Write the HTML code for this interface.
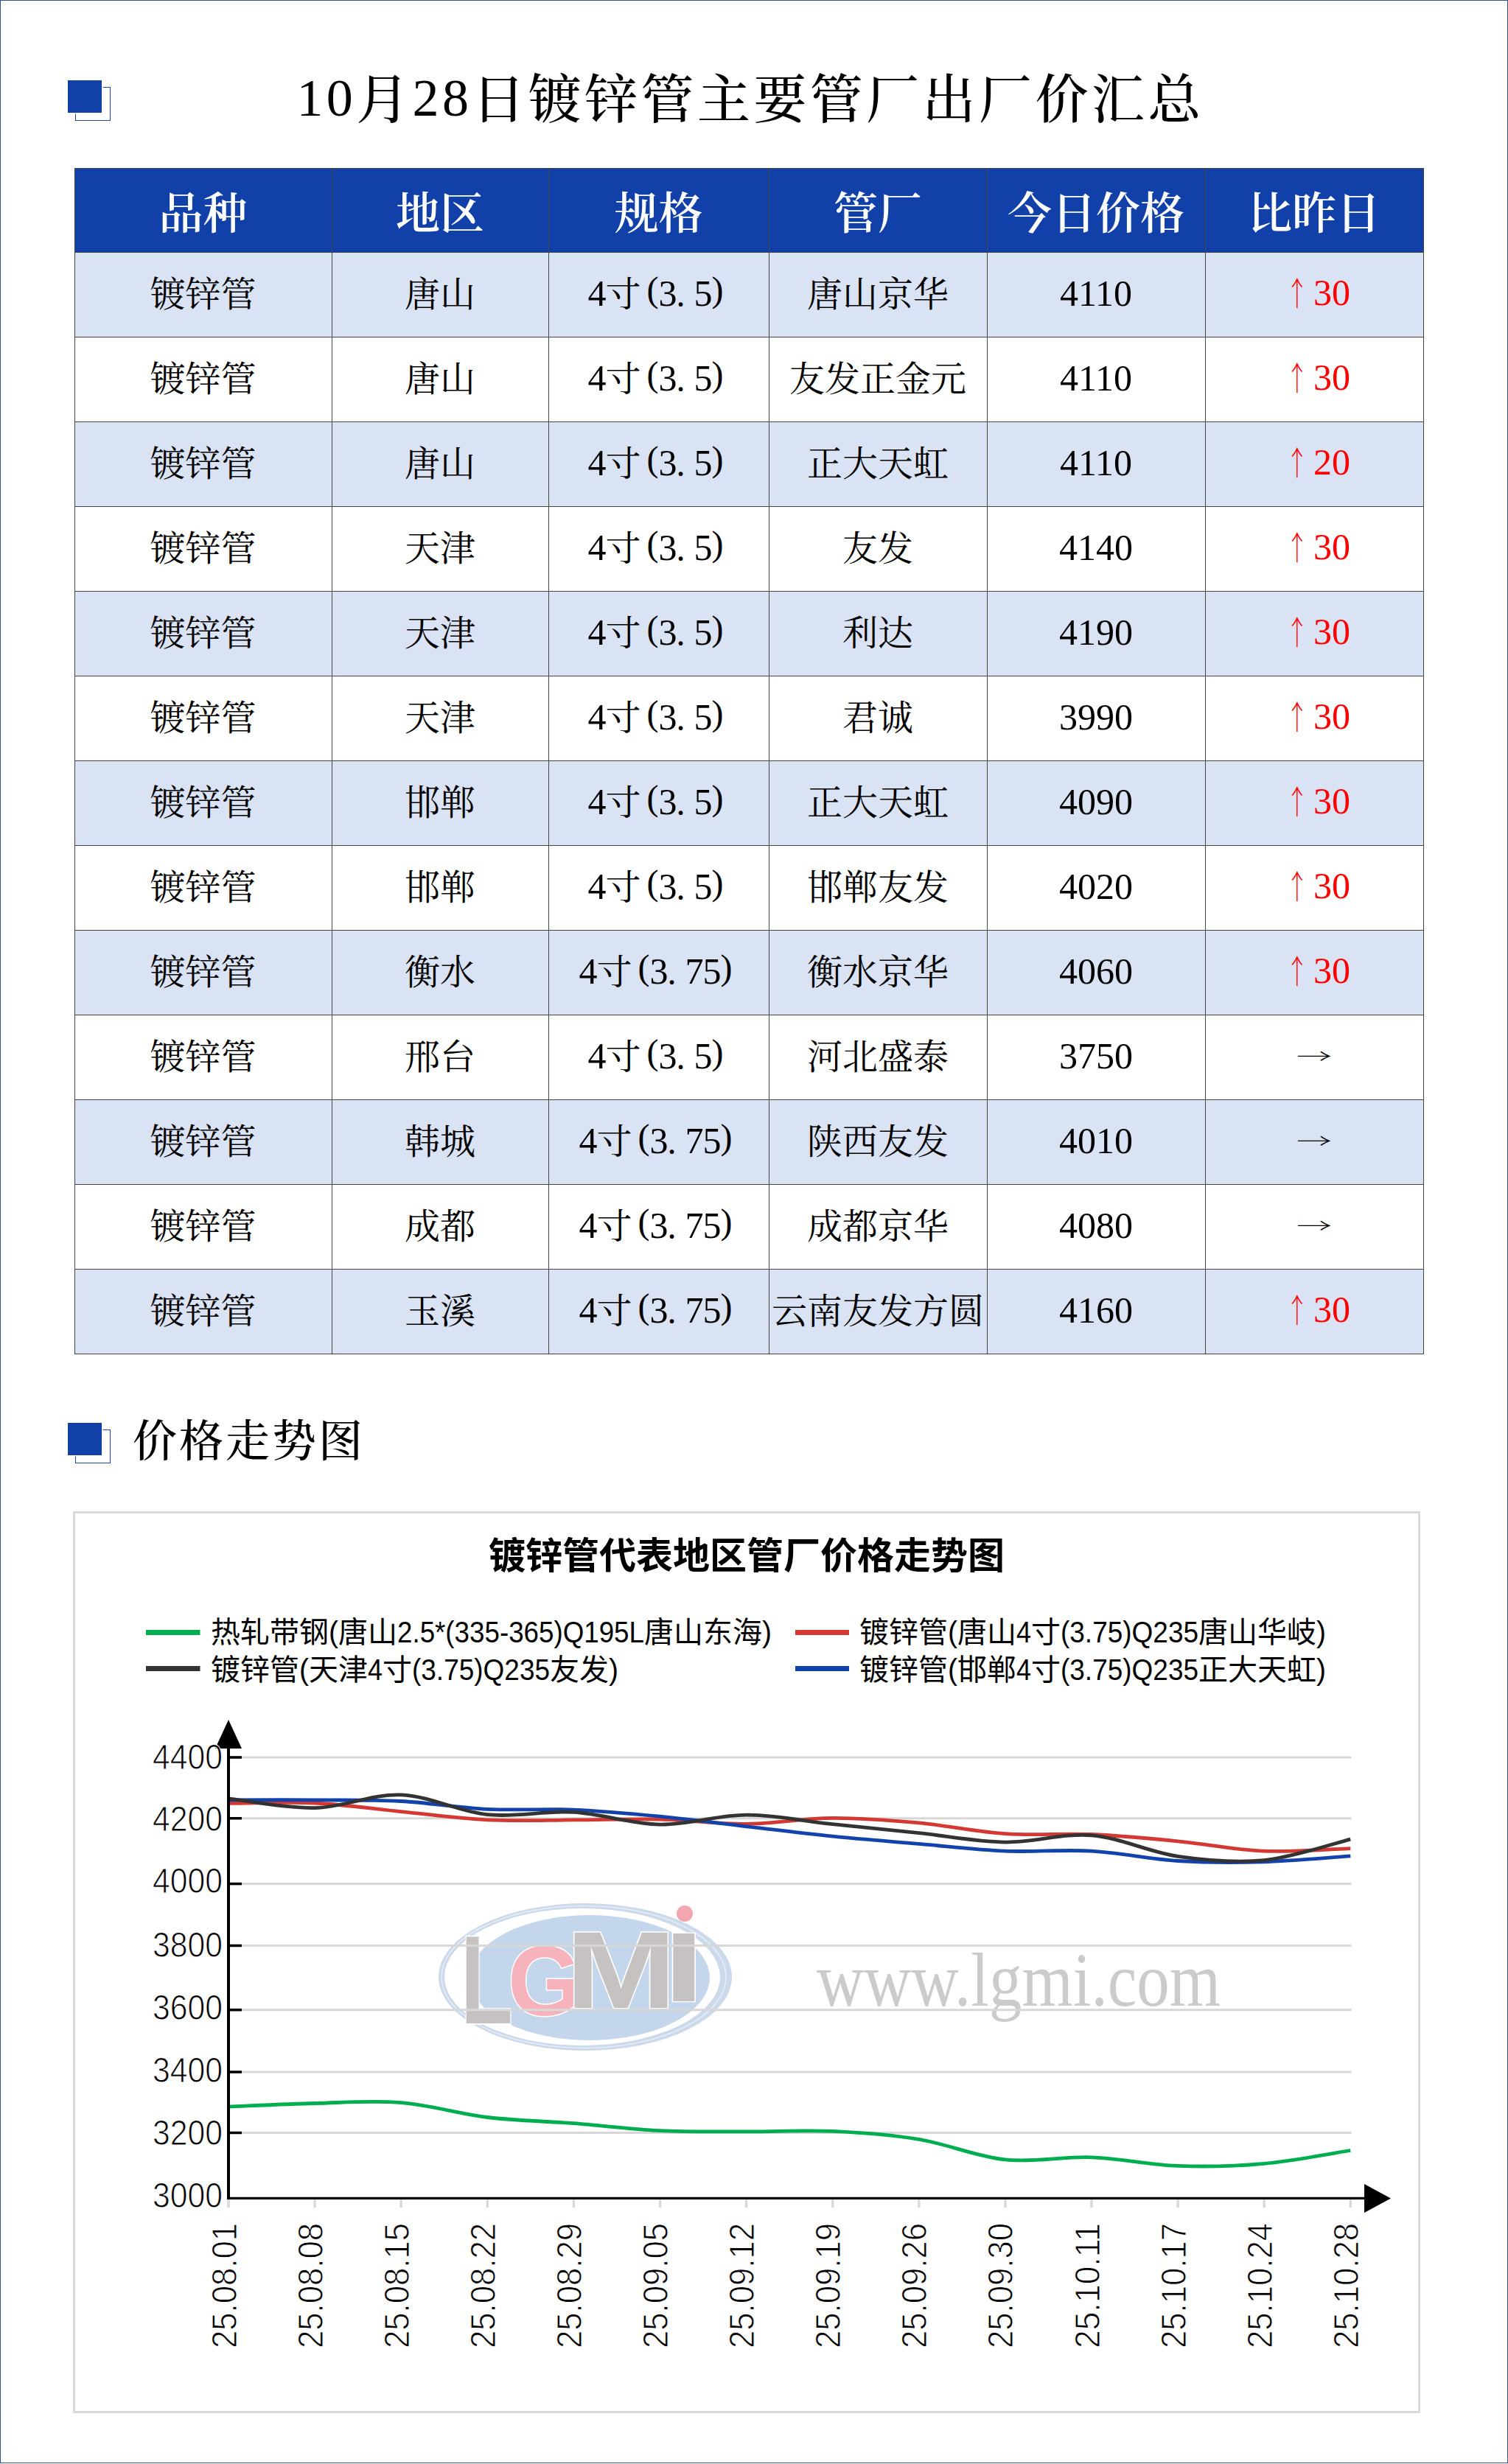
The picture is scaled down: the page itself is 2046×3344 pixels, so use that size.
<!DOCTYPE html><html><head><meta charset="utf-8"><title>镀锌管主要管厂出厂价汇总</title><style>
*{margin:0;padding:0;box-sizing:border-box}
html,body{width:2046px;height:3344px;background:#fff;overflow:hidden}
body{position:relative;font-family:"Liberation Serif","Noto Serif CJK SC",serif;color:#000}
.frame{position:absolute;left:0;top:0;width:2046px;height:3343px;border:1px solid #32528f}
.ico{position:absolute;width:58px;height:55px}
.ico .o{position:absolute;left:10px;top:9px;width:48px;height:46px;border:1.5px solid #1a46b0}
.ico .f{position:absolute;left:0;top:0;width:46px;height:44px;background:#1240a9;box-shadow:0 0 0 1.5px #fff}
.title{position:absolute;left:0;width:2046px;text-align:center;font-size:72px;font-weight:500;letter-spacing:4.4px;white-space:nowrap;line-height:1}
.tn{position:relative;top:-3px}
.sec{position:absolute;font-size:60px;font-weight:500;letter-spacing:3px;white-space:nowrap;line-height:1}
.row{position:absolute;left:101px;width:1831px}
.hl{position:absolute;left:101px;width:1831px;height:1px;background:#454545}
.vl{position:absolute;width:1px;background:#454545}
.c{position:absolute;display:flex;align-items:center;justify-content:center;white-space:nowrap;line-height:1}
.h{color:#fff;font-size:60px;font-weight:600;padding-top:12px}
.d{font-size:48px}
.hw{display:inline-block;width:24px;text-align:center}
.pl{text-align:right;position:relative;top:-7px}
.pr{text-align:left;position:relative;top:-7px}
.dt{text-align:left}
.n{font-size:50px;position:relative;top:-2px}
.nu{top:-3.5px}
.ra{transform:translateY(-3.5px) scaleY(0.55)}
.ua{transform:translate(2px,-2px) scale(0.62,0.93)}
.up{color:#f00}
.ar{display:inline-block;width:48px;text-align:center;font-family:"Noto Serif CJK SC",serif}
.cs{position:absolute;left:99px;top:2051px}
.ct{font-family:"Liberation Sans","Noto Sans CJK SC",sans-serif;font-size:50px;font-weight:700}
.lg{font-family:"Liberation Sans","Noto Sans CJK SC",sans-serif;font-size:40px}
.ax{font-family:"Liberation Sans",sans-serif;font-size:48px;stroke:#fff;stroke-width:1px}
.wl{font-family:"Liberation Sans",sans-serif;font-weight:700;font-size:100px}
.ww{font-family:"Liberation Serif",serif;font-size:104px;fill:#cbcbcb}
.chart{position:absolute;left:99px;top:2051px;width:1828px;height:1224px;border:3px solid #d9d9d9;background:#fff}
</style></head><body>
<div class="frame"></div>
<div class="ico" style="left:92px;top:109px"><div class="o"></div><div class="f"></div></div>
<div class="title" style="top:99.5px;left:-5px"><span class="tn">10</span>月<span class="tn">28</span>日镀锌管主要管厂出厂价汇总</div>
<div class="row" style="top:228px;height:114px;background:#1240a9"></div>
<div class="row" style="top:342px;height:115px;background:#dae3f3"></div>
<div class="row" style="top:457px;height:115px;background:#ffffff"></div>
<div class="row" style="top:572px;height:115px;background:#dae3f3"></div>
<div class="row" style="top:687px;height:115px;background:#ffffff"></div>
<div class="row" style="top:802px;height:115px;background:#dae3f3"></div>
<div class="row" style="top:917px;height:115px;background:#ffffff"></div>
<div class="row" style="top:1032px;height:115px;background:#dae3f3"></div>
<div class="row" style="top:1147px;height:115px;background:#ffffff"></div>
<div class="row" style="top:1262px;height:115px;background:#dae3f3"></div>
<div class="row" style="top:1377px;height:115px;background:#ffffff"></div>
<div class="row" style="top:1492px;height:115px;background:#dae3f3"></div>
<div class="row" style="top:1607px;height:115px;background:#ffffff"></div>
<div class="row" style="top:1722px;height:115px;background:#dae3f3"></div>
<div class="c h" style="left:101px;top:228px;width:349px;height:114px">品种</div>
<div class="c h" style="left:450px;top:228px;width:294px;height:114px">地区</div>
<div class="c h" style="left:744px;top:228px;width:299px;height:114px">规格</div>
<div class="c h" style="left:1043px;top:228px;width:296px;height:114px">管厂</div>
<div class="c h" style="left:1339px;top:228px;width:296px;height:114px">今日价格</div>
<div class="c h" style="left:1635px;top:228px;width:296px;height:114px">比昨日</div>
<div class="c d" style="left:101px;top:342px;width:349px;height:115px">镀锌管</div>
<div class="c d" style="left:450px;top:342px;width:294px;height:115px">唐山</div>
<div class="c d" style="left:744px;top:342px;width:299px;height:115px"><span class="hw n">4</span>寸<span class="hw pl">(</span><span class="hw n">3</span><span class="hw dt">.</span><span class="hw n">5</span><span class="hw pr">)</span></div>
<div class="c d" style="left:1043px;top:342px;width:296px;height:115px">唐山京华</div>
<div class="c d" style="left:1339px;top:342px;width:296px;height:115px"><span class="n">4110</span></div>
<div class="c d" style="left:1635px;top:342px;width:296px;height:115px"><span class="up"><span class="ar ua">↑</span><span class="n nu">30</span></span></div>
<div class="c d" style="left:101px;top:457px;width:349px;height:115px">镀锌管</div>
<div class="c d" style="left:450px;top:457px;width:294px;height:115px">唐山</div>
<div class="c d" style="left:744px;top:457px;width:299px;height:115px"><span class="hw n">4</span>寸<span class="hw pl">(</span><span class="hw n">3</span><span class="hw dt">.</span><span class="hw n">5</span><span class="hw pr">)</span></div>
<div class="c d" style="left:1043px;top:457px;width:296px;height:115px">友发正金元</div>
<div class="c d" style="left:1339px;top:457px;width:296px;height:115px"><span class="n">4110</span></div>
<div class="c d" style="left:1635px;top:457px;width:296px;height:115px"><span class="up"><span class="ar ua">↑</span><span class="n nu">30</span></span></div>
<div class="c d" style="left:101px;top:572px;width:349px;height:115px">镀锌管</div>
<div class="c d" style="left:450px;top:572px;width:294px;height:115px">唐山</div>
<div class="c d" style="left:744px;top:572px;width:299px;height:115px"><span class="hw n">4</span>寸<span class="hw pl">(</span><span class="hw n">3</span><span class="hw dt">.</span><span class="hw n">5</span><span class="hw pr">)</span></div>
<div class="c d" style="left:1043px;top:572px;width:296px;height:115px">正大天虹</div>
<div class="c d" style="left:1339px;top:572px;width:296px;height:115px"><span class="n">4110</span></div>
<div class="c d" style="left:1635px;top:572px;width:296px;height:115px"><span class="up"><span class="ar ua">↑</span><span class="n nu">20</span></span></div>
<div class="c d" style="left:101px;top:687px;width:349px;height:115px">镀锌管</div>
<div class="c d" style="left:450px;top:687px;width:294px;height:115px">天津</div>
<div class="c d" style="left:744px;top:687px;width:299px;height:115px"><span class="hw n">4</span>寸<span class="hw pl">(</span><span class="hw n">3</span><span class="hw dt">.</span><span class="hw n">5</span><span class="hw pr">)</span></div>
<div class="c d" style="left:1043px;top:687px;width:296px;height:115px">友发</div>
<div class="c d" style="left:1339px;top:687px;width:296px;height:115px"><span class="n">4140</span></div>
<div class="c d" style="left:1635px;top:687px;width:296px;height:115px"><span class="up"><span class="ar ua">↑</span><span class="n nu">30</span></span></div>
<div class="c d" style="left:101px;top:802px;width:349px;height:115px">镀锌管</div>
<div class="c d" style="left:450px;top:802px;width:294px;height:115px">天津</div>
<div class="c d" style="left:744px;top:802px;width:299px;height:115px"><span class="hw n">4</span>寸<span class="hw pl">(</span><span class="hw n">3</span><span class="hw dt">.</span><span class="hw n">5</span><span class="hw pr">)</span></div>
<div class="c d" style="left:1043px;top:802px;width:296px;height:115px">利达</div>
<div class="c d" style="left:1339px;top:802px;width:296px;height:115px"><span class="n">4190</span></div>
<div class="c d" style="left:1635px;top:802px;width:296px;height:115px"><span class="up"><span class="ar ua">↑</span><span class="n nu">30</span></span></div>
<div class="c d" style="left:101px;top:917px;width:349px;height:115px">镀锌管</div>
<div class="c d" style="left:450px;top:917px;width:294px;height:115px">天津</div>
<div class="c d" style="left:744px;top:917px;width:299px;height:115px"><span class="hw n">4</span>寸<span class="hw pl">(</span><span class="hw n">3</span><span class="hw dt">.</span><span class="hw n">5</span><span class="hw pr">)</span></div>
<div class="c d" style="left:1043px;top:917px;width:296px;height:115px">君诚</div>
<div class="c d" style="left:1339px;top:917px;width:296px;height:115px"><span class="n">3990</span></div>
<div class="c d" style="left:1635px;top:917px;width:296px;height:115px"><span class="up"><span class="ar ua">↑</span><span class="n nu">30</span></span></div>
<div class="c d" style="left:101px;top:1032px;width:349px;height:115px">镀锌管</div>
<div class="c d" style="left:450px;top:1032px;width:294px;height:115px">邯郸</div>
<div class="c d" style="left:744px;top:1032px;width:299px;height:115px"><span class="hw n">4</span>寸<span class="hw pl">(</span><span class="hw n">3</span><span class="hw dt">.</span><span class="hw n">5</span><span class="hw pr">)</span></div>
<div class="c d" style="left:1043px;top:1032px;width:296px;height:115px">正大天虹</div>
<div class="c d" style="left:1339px;top:1032px;width:296px;height:115px"><span class="n">4090</span></div>
<div class="c d" style="left:1635px;top:1032px;width:296px;height:115px"><span class="up"><span class="ar ua">↑</span><span class="n nu">30</span></span></div>
<div class="c d" style="left:101px;top:1147px;width:349px;height:115px">镀锌管</div>
<div class="c d" style="left:450px;top:1147px;width:294px;height:115px">邯郸</div>
<div class="c d" style="left:744px;top:1147px;width:299px;height:115px"><span class="hw n">4</span>寸<span class="hw pl">(</span><span class="hw n">3</span><span class="hw dt">.</span><span class="hw n">5</span><span class="hw pr">)</span></div>
<div class="c d" style="left:1043px;top:1147px;width:296px;height:115px">邯郸友发</div>
<div class="c d" style="left:1339px;top:1147px;width:296px;height:115px"><span class="n">4020</span></div>
<div class="c d" style="left:1635px;top:1147px;width:296px;height:115px"><span class="up"><span class="ar ua">↑</span><span class="n nu">30</span></span></div>
<div class="c d" style="left:101px;top:1262px;width:349px;height:115px">镀锌管</div>
<div class="c d" style="left:450px;top:1262px;width:294px;height:115px">衡水</div>
<div class="c d" style="left:744px;top:1262px;width:299px;height:115px"><span class="hw n">4</span>寸<span class="hw pl">(</span><span class="hw n">3</span><span class="hw dt">.</span><span class="hw n">7</span><span class="hw n">5</span><span class="hw pr">)</span></div>
<div class="c d" style="left:1043px;top:1262px;width:296px;height:115px">衡水京华</div>
<div class="c d" style="left:1339px;top:1262px;width:296px;height:115px"><span class="n">4060</span></div>
<div class="c d" style="left:1635px;top:1262px;width:296px;height:115px"><span class="up"><span class="ar ua">↑</span><span class="n nu">30</span></span></div>
<div class="c d" style="left:101px;top:1377px;width:349px;height:115px">镀锌管</div>
<div class="c d" style="left:450px;top:1377px;width:294px;height:115px">邢台</div>
<div class="c d" style="left:744px;top:1377px;width:299px;height:115px"><span class="hw n">4</span>寸<span class="hw pl">(</span><span class="hw n">3</span><span class="hw dt">.</span><span class="hw n">5</span><span class="hw pr">)</span></div>
<div class="c d" style="left:1043px;top:1377px;width:296px;height:115px">河北盛泰</div>
<div class="c d" style="left:1339px;top:1377px;width:296px;height:115px"><span class="n">3750</span></div>
<div class="c d" style="left:1635px;top:1377px;width:296px;height:115px"><span class="ar ra">→</span></div>
<div class="c d" style="left:101px;top:1492px;width:349px;height:115px">镀锌管</div>
<div class="c d" style="left:450px;top:1492px;width:294px;height:115px">韩城</div>
<div class="c d" style="left:744px;top:1492px;width:299px;height:115px"><span class="hw n">4</span>寸<span class="hw pl">(</span><span class="hw n">3</span><span class="hw dt">.</span><span class="hw n">7</span><span class="hw n">5</span><span class="hw pr">)</span></div>
<div class="c d" style="left:1043px;top:1492px;width:296px;height:115px">陕西友发</div>
<div class="c d" style="left:1339px;top:1492px;width:296px;height:115px"><span class="n">4010</span></div>
<div class="c d" style="left:1635px;top:1492px;width:296px;height:115px"><span class="ar ra">→</span></div>
<div class="c d" style="left:101px;top:1607px;width:349px;height:115px">镀锌管</div>
<div class="c d" style="left:450px;top:1607px;width:294px;height:115px">成都</div>
<div class="c d" style="left:744px;top:1607px;width:299px;height:115px"><span class="hw n">4</span>寸<span class="hw pl">(</span><span class="hw n">3</span><span class="hw dt">.</span><span class="hw n">7</span><span class="hw n">5</span><span class="hw pr">)</span></div>
<div class="c d" style="left:1043px;top:1607px;width:296px;height:115px">成都京华</div>
<div class="c d" style="left:1339px;top:1607px;width:296px;height:115px"><span class="n">4080</span></div>
<div class="c d" style="left:1635px;top:1607px;width:296px;height:115px"><span class="ar ra">→</span></div>
<div class="c d" style="left:101px;top:1722px;width:349px;height:115px">镀锌管</div>
<div class="c d" style="left:450px;top:1722px;width:294px;height:115px">玉溪</div>
<div class="c d" style="left:744px;top:1722px;width:299px;height:115px"><span class="hw n">4</span>寸<span class="hw pl">(</span><span class="hw n">3</span><span class="hw dt">.</span><span class="hw n">7</span><span class="hw n">5</span><span class="hw pr">)</span></div>
<div class="c d" style="left:1043px;top:1722px;width:296px;height:115px">云南友发方圆</div>
<div class="c d" style="left:1339px;top:1722px;width:296px;height:115px"><span class="n">4160</span></div>
<div class="c d" style="left:1635px;top:1722px;width:296px;height:115px"><span class="up"><span class="ar ua">↑</span><span class="n nu">30</span></span></div>
<div class="hl" style="top:228px"></div>
<div class="hl" style="top:342px"></div>
<div class="hl" style="top:457px"></div>
<div class="hl" style="top:572px"></div>
<div class="hl" style="top:687px"></div>
<div class="hl" style="top:802px"></div>
<div class="hl" style="top:917px"></div>
<div class="hl" style="top:1032px"></div>
<div class="hl" style="top:1147px"></div>
<div class="hl" style="top:1262px"></div>
<div class="hl" style="top:1377px"></div>
<div class="hl" style="top:1492px"></div>
<div class="hl" style="top:1607px"></div>
<div class="hl" style="top:1722px"></div>
<div class="hl" style="top:1837px"></div>
<div class="vl" style="left:101px;top:228px;height:1610px"></div>
<div class="vl" style="left:450px;top:228px;height:1610px"></div>
<div class="vl" style="left:744px;top:228px;height:1610px"></div>
<div class="vl" style="left:1043px;top:228px;height:1610px"></div>
<div class="vl" style="left:1339px;top:228px;height:1610px"></div>
<div class="vl" style="left:1635px;top:228px;height:1610px"></div>
<div class="vl" style="left:1931px;top:228px;height:1610px"></div>
<div class="ico" style="left:92px;top:1931px"><div class="o"></div><div class="f"></div></div>
<div class="sec" style="left:180px;top:1927px">价格走势图</div>
<div class="chart"></div>
<div style="position:absolute;left:0;top:0"><svg class="cs" width="1829" height="1225" viewBox="99 2051 1829 1225">
<text x="1013" y="2129" text-anchor="middle" class="ct">镀锌管代表地区管厂价格走势图</text>
<line x1="198" y1="2215.5" x2="271.5" y2="2215.5" stroke="#00ae50" stroke-width="7"/>
<line x1="198" y1="2264.5" x2="271.5" y2="2264.5" stroke="#333333" stroke-width="7"/>
<line x1="1079" y1="2215.5" x2="1152" y2="2215.5" stroke="#d33833" stroke-width="7"/>
<line x1="1079" y1="2264.5" x2="1152" y2="2264.5" stroke="#1243ab" stroke-width="7"/>
<text y="2229.0" class="lg"><tspan x="286.0">热轧带钢</tspan><tspan x="446.0" textLength="13.0" lengthAdjust="spacingAndGlyphs">(</tspan><tspan x="459.0">唐山</tspan><tspan x="539.0" textLength="335.0" lengthAdjust="spacingAndGlyphs">2.5*(335-365)Q195L</tspan><tspan x="874.0">唐山东海</tspan><tspan x="1034.0" textLength="13.0" lengthAdjust="spacingAndGlyphs">)</tspan></text>
<text y="2280.0" class="lg"><tspan x="286.0">镀锌管</tspan><tspan x="406.0" textLength="13.0" lengthAdjust="spacingAndGlyphs">(</tspan><tspan x="419.0">天津</tspan><tspan x="499.0" textLength="20.0" lengthAdjust="spacingAndGlyphs">4</tspan><tspan x="519.0">寸</tspan><tspan x="559.0" textLength="187.0" lengthAdjust="spacingAndGlyphs">(3.75)Q235</tspan><tspan x="746.0">友发</tspan><tspan x="826.0" textLength="13.0" lengthAdjust="spacingAndGlyphs">)</tspan></text>
<text y="2229.0" class="lg"><tspan x="1166.0">镀锌管</tspan><tspan x="1286.0" textLength="13.0" lengthAdjust="spacingAndGlyphs">(</tspan><tspan x="1299.0">唐山</tspan><tspan x="1379.0" textLength="20.0" lengthAdjust="spacingAndGlyphs">4</tspan><tspan x="1399.0">寸</tspan><tspan x="1439.0" textLength="187.0" lengthAdjust="spacingAndGlyphs">(3.75)Q235</tspan><tspan x="1626.0">唐山华岐</tspan><tspan x="1786.0" textLength="13.0" lengthAdjust="spacingAndGlyphs">)</tspan></text>
<text y="2280.0" class="lg"><tspan x="1166.0">镀锌管</tspan><tspan x="1286.0" textLength="13.0" lengthAdjust="spacingAndGlyphs">(</tspan><tspan x="1299.0">邯郸</tspan><tspan x="1379.0" textLength="20.0" lengthAdjust="spacingAndGlyphs">4</tspan><tspan x="1399.0">寸</tspan><tspan x="1439.0" textLength="187.0" lengthAdjust="spacingAndGlyphs">(3.75)Q235</tspan><tspan x="1626.0">正大天虹</tspan><tspan x="1786.0" textLength="13.0" lengthAdjust="spacingAndGlyphs">)</tspan></text>
<g class="wm">
<ellipse cx="794" cy="2683" rx="199" ry="100" fill="#cbd9eb"/>
<ellipse cx="790" cy="2683" rx="187" ry="93" fill="#fff"/>
<ellipse cx="792" cy="2683" rx="193" ry="96.5" fill="none" stroke="#e6edf6" stroke-width="1.5"/>
<ellipse cx="800" cy="2684" rx="163" ry="85" fill="#c4d6ec"/>
<text transform="translate(624.9,2745.7) scale(1.157,1.710)" class="wl" fill="#c6c2c2" stroke="#fff" stroke-width="3" paint-order="stroke" vector-effect="non-scaling-stroke">L</text>
<text transform="translate(688.9,2735.0) scale(1.280,1.330)" class="wl" fill="#f6b3bc" stroke="#fff" stroke-width="3" paint-order="stroke" vector-effect="non-scaling-stroke">G</text>
<text transform="translate(767.4,2724.5) scale(1.800,1.490)" class="wl" fill="#c6c2c2" stroke="#fff" stroke-width="3" paint-order="stroke" vector-effect="non-scaling-stroke">M</text>
<text transform="translate(900.0,2716.3) scale(2.000,1.330)" class="wl" fill="#c6c2c2" stroke="#fff" stroke-width="3" paint-order="stroke" vector-effect="non-scaling-stroke">I</text>
<circle cx="929" cy="2597" r="11" fill="#f4a5af"/>
<text x="1108" y="2722" class="ww" textLength="548" lengthAdjust="spacingAndGlyphs">www.lgmi.com</text>
</g>
<line x1="312" y1="2894.5" x2="1833.5" y2="2894.5" stroke="#d7d7d7" stroke-width="3"/>
<line x1="312" y1="2812.0" x2="1833.5" y2="2812.0" stroke="#d7d7d7" stroke-width="3"/>
<line x1="312" y1="2727.7" x2="1833.5" y2="2727.7" stroke="#d7d7d7" stroke-width="3"/>
<line x1="312" y1="2640.5" x2="1833.5" y2="2640.5" stroke="#d7d7d7" stroke-width="3"/>
<line x1="312" y1="2556.6" x2="1833.5" y2="2556.6" stroke="#d7d7d7" stroke-width="3"/>
<line x1="312" y1="2467.7" x2="1833.5" y2="2467.7" stroke="#d7d7d7" stroke-width="3"/>
<line x1="312" y1="2385.0" x2="1833.5" y2="2385.0" stroke="#d7d7d7" stroke-width="3"/>
<path d="M310.0,2859.0 C329.5,2858.3 388.1,2855.4 427.1,2854.5 C466.1,2853.6 505.2,2850.5 544.2,2853.7 C583.2,2856.8 622.3,2868.8 661.3,2873.5 C700.3,2878.1 739.4,2878.7 778.4,2881.7 C817.4,2884.7 856.5,2889.8 895.5,2891.6 C934.5,2893.5 973.6,2892.7 1012.6,2892.8 C1051.6,2893.0 1090.7,2890.7 1129.7,2892.4 C1168.7,2894.2 1207.8,2897.0 1246.8,2903.4 C1285.8,2909.8 1324.9,2926.9 1363.9,2930.9 C1402.9,2935.0 1442.0,2926.4 1481.0,2927.8 C1520.0,2929.2 1559.1,2938.0 1598.1,2939.4 C1637.1,2940.8 1676.2,2939.8 1715.2,2936.3 C1754.2,2932.8 1812.8,2921.5 1832.3,2918.5" fill="none" stroke="#00ae50" stroke-width="4.8" stroke-linejoin="round"/>
<path d="M310.0,2447.4 C329.5,2447.4 388.1,2445.2 427.1,2447.0 C466.1,2448.9 505.2,2454.8 544.2,2458.6 C583.2,2462.4 622.3,2468.0 661.3,2469.9 C700.3,2471.8 739.4,2470.1 778.4,2469.9 C817.4,2469.8 856.5,2468.1 895.5,2469.0 C934.5,2469.9 973.6,2475.5 1012.6,2475.3 C1051.6,2475.0 1090.7,2467.5 1129.7,2467.3 C1168.7,2467.1 1207.8,2470.4 1246.8,2473.9 C1285.8,2477.5 1324.9,2486.0 1363.9,2488.6 C1402.9,2491.2 1442.0,2487.8 1481.0,2489.5 C1520.0,2491.2 1559.1,2495.0 1598.1,2498.8 C1637.1,2502.6 1676.2,2510.5 1715.2,2512.1 C1754.2,2513.8 1812.8,2509.2 1832.3,2508.6" fill="none" stroke="#d33833" stroke-width="4.8" stroke-linejoin="round"/>
<path d="M310.0,2442.9 C329.5,2442.9 388.1,2442.6 427.1,2442.9 C466.1,2443.2 505.2,2442.5 544.2,2444.5 C583.2,2446.6 622.3,2453.4 661.3,2455.3 C700.3,2457.2 739.4,2454.5 778.4,2456.1 C817.4,2457.8 856.5,2461.4 895.5,2465.2 C934.5,2469.0 973.6,2474.3 1012.6,2478.8 C1051.6,2483.3 1090.7,2488.2 1129.7,2492.1 C1168.7,2496.1 1207.8,2499.0 1246.8,2502.4 C1285.8,2505.7 1324.9,2510.5 1363.9,2512.1 C1402.9,2513.8 1442.0,2509.9 1481.0,2512.1 C1520.0,2514.4 1559.1,2523.0 1598.1,2525.5 C1637.1,2527.9 1676.2,2527.9 1715.2,2526.8 C1754.2,2525.7 1812.8,2520.2 1832.3,2518.8" fill="none" stroke="#1243ab" stroke-width="4.8" stroke-linejoin="round"/>
<path d="M310.0,2440.8 C329.5,2443.0 388.1,2454.5 427.1,2453.6 C466.1,2452.8 505.2,2434.3 544.2,2435.9 C583.2,2437.4 622.3,2458.8 661.3,2462.7 C700.3,2466.7 739.4,2457.2 778.4,2459.4 C817.4,2461.7 856.5,2475.5 895.5,2476.1 C934.5,2476.8 973.6,2463.2 1012.6,2463.2 C1051.6,2463.1 1090.7,2471.6 1129.7,2475.7 C1168.7,2479.8 1207.8,2483.6 1246.8,2487.7 C1285.8,2491.8 1324.9,2499.6 1363.9,2500.1 C1402.9,2500.7 1442.0,2487.6 1481.0,2490.8 C1520.0,2494.0 1559.1,2513.6 1598.1,2519.3 C1637.1,2524.9 1676.2,2528.4 1715.2,2524.6 C1754.2,2520.7 1812.8,2500.9 1832.3,2496.1" fill="none" stroke="#333333" stroke-width="4.8" stroke-linejoin="round"/>
<line x1="310" y1="2370" x2="310" y2="2985" stroke="#000" stroke-width="4"/>
<polygon points="310,2334 292,2373 328,2373" fill="#000"/>
<line x1="308" y1="2983.4" x2="1855" y2="2983.4" stroke="#000" stroke-width="3.2"/>
<polygon points="1851,2964 1851,3003 1887,2983.5" fill="#000"/>
<text x="302" y="2996.0" class="ax" text-anchor="end" textLength="95" lengthAdjust="spacingAndGlyphs">3000</text>
<line x1="310" y1="2894.5" x2="328" y2="2894.5" stroke="#000" stroke-width="3.5"/>
<text x="302" y="2911.0" class="ax" text-anchor="end" textLength="95" lengthAdjust="spacingAndGlyphs">3200</text>
<line x1="310" y1="2812.0" x2="328" y2="2812.0" stroke="#000" stroke-width="3.5"/>
<text x="302" y="2826.0" class="ax" text-anchor="end" textLength="95" lengthAdjust="spacingAndGlyphs">3400</text>
<line x1="310" y1="2727.7" x2="328" y2="2727.7" stroke="#000" stroke-width="3.5"/>
<text x="302" y="2741.0" class="ax" text-anchor="end" textLength="95" lengthAdjust="spacingAndGlyphs">3600</text>
<line x1="310" y1="2640.5" x2="328" y2="2640.5" stroke="#000" stroke-width="3.5"/>
<text x="302" y="2655.8" class="ax" text-anchor="end" textLength="95" lengthAdjust="spacingAndGlyphs">3800</text>
<line x1="310" y1="2556.6" x2="328" y2="2556.6" stroke="#000" stroke-width="3.5"/>
<text x="302" y="2568.7" class="ax" text-anchor="end" textLength="95" lengthAdjust="spacingAndGlyphs">4000</text>
<line x1="310" y1="2467.7" x2="328" y2="2467.7" stroke="#000" stroke-width="3.5"/>
<text x="302" y="2485.0" class="ax" text-anchor="end" textLength="95" lengthAdjust="spacingAndGlyphs">4200</text>
<line x1="310" y1="2385.0" x2="328" y2="2385.0" stroke="#000" stroke-width="3.5"/>
<text x="302" y="2401.0" class="ax" text-anchor="end" textLength="95" lengthAdjust="spacingAndGlyphs">4400</text>
<line x1="310.0" y1="2985" x2="310.0" y2="2996" stroke="#d9d9d9" stroke-width="3.5"/>
<text transform="translate(320.5,3017) rotate(-90)" class="ax" text-anchor="end" textLength="170" lengthAdjust="spacingAndGlyphs">25.08.01</text>
<line x1="427.1" y1="2985" x2="427.1" y2="2996" stroke="#d9d9d9" stroke-width="3.5"/>
<text transform="translate(437.6,3017) rotate(-90)" class="ax" text-anchor="end" textLength="170" lengthAdjust="spacingAndGlyphs">25.08.08</text>
<line x1="544.2" y1="2985" x2="544.2" y2="2996" stroke="#d9d9d9" stroke-width="3.5"/>
<text transform="translate(554.7,3017) rotate(-90)" class="ax" text-anchor="end" textLength="170" lengthAdjust="spacingAndGlyphs">25.08.15</text>
<line x1="661.3" y1="2985" x2="661.3" y2="2996" stroke="#d9d9d9" stroke-width="3.5"/>
<text transform="translate(671.8,3017) rotate(-90)" class="ax" text-anchor="end" textLength="170" lengthAdjust="spacingAndGlyphs">25.08.22</text>
<line x1="778.4" y1="2985" x2="778.4" y2="2996" stroke="#d9d9d9" stroke-width="3.5"/>
<text transform="translate(788.9,3017) rotate(-90)" class="ax" text-anchor="end" textLength="170" lengthAdjust="spacingAndGlyphs">25.08.29</text>
<line x1="895.5" y1="2985" x2="895.5" y2="2996" stroke="#d9d9d9" stroke-width="3.5"/>
<text transform="translate(906.0,3017) rotate(-90)" class="ax" text-anchor="end" textLength="170" lengthAdjust="spacingAndGlyphs">25.09.05</text>
<line x1="1012.6" y1="2985" x2="1012.6" y2="2996" stroke="#d9d9d9" stroke-width="3.5"/>
<text transform="translate(1023.1,3017) rotate(-90)" class="ax" text-anchor="end" textLength="170" lengthAdjust="spacingAndGlyphs">25.09.12</text>
<line x1="1129.7" y1="2985" x2="1129.7" y2="2996" stroke="#d9d9d9" stroke-width="3.5"/>
<text transform="translate(1140.2,3017) rotate(-90)" class="ax" text-anchor="end" textLength="170" lengthAdjust="spacingAndGlyphs">25.09.19</text>
<line x1="1246.8" y1="2985" x2="1246.8" y2="2996" stroke="#d9d9d9" stroke-width="3.5"/>
<text transform="translate(1257.3,3017) rotate(-90)" class="ax" text-anchor="end" textLength="170" lengthAdjust="spacingAndGlyphs">25.09.26</text>
<line x1="1363.9" y1="2985" x2="1363.9" y2="2996" stroke="#d9d9d9" stroke-width="3.5"/>
<text transform="translate(1374.4,3017) rotate(-90)" class="ax" text-anchor="end" textLength="170" lengthAdjust="spacingAndGlyphs">25.09.30</text>
<line x1="1481.0" y1="2985" x2="1481.0" y2="2996" stroke="#d9d9d9" stroke-width="3.5"/>
<text transform="translate(1491.5,3017) rotate(-90)" class="ax" text-anchor="end" textLength="170" lengthAdjust="spacingAndGlyphs">25.10.11</text>
<line x1="1598.1" y1="2985" x2="1598.1" y2="2996" stroke="#d9d9d9" stroke-width="3.5"/>
<text transform="translate(1608.6,3017) rotate(-90)" class="ax" text-anchor="end" textLength="170" lengthAdjust="spacingAndGlyphs">25.10.17</text>
<line x1="1715.2" y1="2985" x2="1715.2" y2="2996" stroke="#d9d9d9" stroke-width="3.5"/>
<text transform="translate(1725.7,3017) rotate(-90)" class="ax" text-anchor="end" textLength="170" lengthAdjust="spacingAndGlyphs">25.10.24</text>
<line x1="1832.3" y1="2985" x2="1832.3" y2="2996" stroke="#d9d9d9" stroke-width="3.5"/>
<text transform="translate(1842.8,3017) rotate(-90)" class="ax" text-anchor="end" textLength="170" lengthAdjust="spacingAndGlyphs">25.10.28</text>
</svg></div>
</body></html>
